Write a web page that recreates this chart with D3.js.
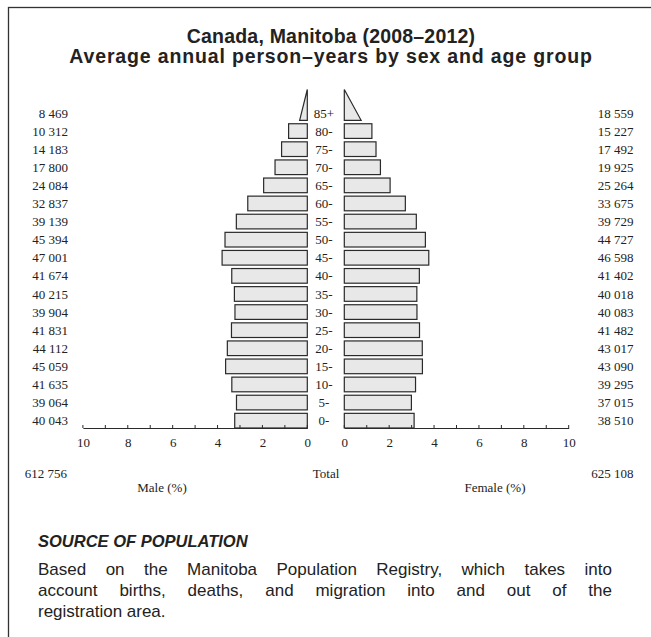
<!DOCTYPE html>
<html>
<head>
<meta charset="utf-8">
<script src="https://cdn.jsdelivr.net/npm/d3@7"></script>
<style>
  body { margin: 0; background: #fff; }
  svg { display: block; }
</style>
</head>
<body>
<div id="chart"></div>
<script>
// age groups, bottom to top
const ages = ["0-", "5-", "10-", "15-", "20-", "25-", "30-", "35-", "40-",
  "45-", "50-", "55-", "60-", "65-", "70-", "75-", "80-", "85+"];

const maleCounts = [40043, 39064, 41635, 45059, 44112, 41831, 39904, 40215, 41674,
  47001, 45394, 39139, 32837, 24084, 17800, 14183, 10312, 8469];

const femaleCounts = [38510, 37015, 39295, 43090, 43017, 41482, 40083, 40018, 41402,
  46598, 44727, 39729, 33675, 25264, 19925, 17492, 15227, 18559];

const axisTicks = [0, 2, 4, 6, 8, 10];

const titleLines = ["Canada, Manitoba (2008\u20132012)",
  "Average annual person\u2013years by sex and age group"];

const sourceHead = "SOURCE OF POPULATION";
const sourceLines = [
  "Based on the Manitoba Population Registry, which takes into",
  "account births, deaths, and migration into and out of the",
  "registration area."
];

const W = 651, H = 637;
const SERIF = "'Liberation Serif', 'DejaVu Serif', serif";
const SANS = "'Liberation Sans', Arial, sans-serif";
const INK = "#222";

const svg = d3.select("#chart").append("svg")
  .attr("width", W)
  .attr("height", H);

// frame (only top and left edges show inside the picture)
svg.append("rect")
  .attr("x", 8.5).attr("y", 7.5)
  .attr("width", W + 20).attr("height", H + 20)
  .attr("fill", "none")
  .attr("stroke", "#333")
  .attr("stroke-width", 1.3);

// title
svg.append("g").selectAll("text")
  .data(titleLines)
  .enter().append("text")
  .attr("x", 331)
  .attr("y", (d, i) => 43 + i * 19.5)
  .attr("text-anchor", "middle")
  .attr("font-family", SANS)
  .attr("font-weight", "bold")
  .attr("font-size", "19.5px")
  .attr("letter-spacing", (d, i) => i ? "0.85px" : "0.2px")
  .attr("fill", INK)
  .text(d => d);

const maleTotal = d3.sum(maleCounts);
const femaleTotal = d3.sum(femaleCounts);
const grandTotal = maleTotal + femaleTotal;
const pct = v => v / grandTotal * 100;
const fmt = v => d3.format(",")(v).replace(/,/g, " ");

const rows = ages.map((a, i) => ({ age: a, m: maleCounts[i], f: femaleCounts[i] }));

// scales
const xMale = d3.scaleLinear().domain([0, 10]).range([307.3, 82.9]);
const xFemale = d3.scaleLinear().domain([0, 10]).range([344.3, 568.7]);
const axisY = 428;
const step = 18.1;
const y = d3.scaleBand()
  .domain(ages.slice().reverse())
  .range([axisY + step * 0.095 - step * ages.length, axisY + step * 0.095])
  .paddingInner(0.19)
  .paddingOuter(0.095);

const barFill = "#e8e8e8";
const barStroke = "#2a2a2a";

const openAge = ages[ages.length - 1];
const bars = rows.filter(d => d.age !== openAge);
const openRow = rows.find(d => d.age === openAge);

// male bars
svg.append("g").selectAll("rect")
  .data(bars)
  .enter().append("rect")
  .attr("x", d => xMale(pct(d.m)))
  .attr("y", d => y(d.age))
  .attr("width", d => xMale(0) - xMale(pct(d.m)))
  .attr("height", y.bandwidth())
  .attr("fill", barFill)
  .attr("stroke", barStroke)
  .attr("stroke-width", 1.2);

// female bars
svg.append("g").selectAll("rect")
  .data(bars)
  .enter().append("rect")
  .attr("x", xFemale(0))
  .attr("y", d => y(d.age))
  .attr("width", d => xFemale(pct(d.f)) - xFemale(0))
  .attr("height", y.bandwidth())
  .attr("fill", barFill)
  .attr("stroke", barStroke)
  .attr("stroke-width", 1.2);

// open-ended age group drawn as triangles
const triBase = y(openAge) + y.bandwidth();
const triTop = triBase - 2.1 * y.bandwidth();
const triangle = (x, v) => {
  const p = d3.path();
  p.moveTo(x(0), triTop);
  p.lineTo(x(v / 2), triBase);
  p.lineTo(x(0), triBase);
  p.closePath();
  return p.toString();
};
svg.append("path")
  .attr("d", triangle(xMale, pct(openRow.m)))
  .attr("fill", barFill).attr("stroke", barStroke).attr("stroke-width", 1.2);
svg.append("path")
  .attr("d", triangle(xFemale, pct(openRow.f)))
  .attr("fill", barFill).attr("stroke", barStroke).attr("stroke-width", 1.2);

// age labels
svg.append("g").selectAll("text")
  .data(rows)
  .enter().append("text")
  .attr("x", 324)
  .attr("y", d => y(d.age) + y.bandwidth() / 2)
  .attr("dy", "0.35em")
  .attr("text-anchor", "middle")
  .attr("font-family", SERIF)
  .attr("font-size", "13px")
  .attr("fill", INK)
  .text(d => d.age);

// counts, left and right
svg.append("g").selectAll("text")
  .data(rows)
  .enter().append("text")
  .attr("x", 68)
  .attr("y", d => y(d.age) + y.bandwidth() / 2)
  .attr("dy", "0.35em")
  .attr("text-anchor", "end")
  .attr("font-family", SERIF)
  .attr("font-size", "13px")
  .attr("fill", INK)
  .text(d => fmt(d.m));

svg.append("g").selectAll("text")
  .data(rows)
  .enter().append("text")
  .attr("x", 633.5)
  .attr("y", d => y(d.age) + y.bandwidth() / 2)
  .attr("dy", "0.35em")
  .attr("text-anchor", "end")
  .attr("font-family", SERIF)
  .attr("font-size", "13px")
  .attr("fill", INK)
  .text(d => fmt(d.f));

// axes
function drawAxis(scale) {
  const g = svg.append("g").attr("transform", `translate(0,${axisY})`);
  g.call(d3.axisBottom(scale)
    .tickValues(axisTicks)
    .tickSize(0)
    .tickPadding(10)
    .tickFormat(d3.format("d")));
  g.select(".domain").attr("stroke", barStroke).attr("stroke-width", 1.2);
  g.selectAll(".tick text")
    .attr("font-family", SERIF)
    .attr("font-size", "13px")
    .attr("fill", INK);
  // small ticks every unit, pointing up
  g.selectAll(".minor")
    .data(d3.range(0, 11))
    .enter().append("line")
    .attr("class", "minor")
    .attr("x1", d => scale(d)).attr("x2", d => scale(d))
    .attr("y1", 0).attr("y2", -3)
    .attr("stroke", barStroke)
    .attr("stroke-width", 1);
}
drawAxis(xMale);
drawAxis(xFemale);

// totals and axis titles
const foot = svg.append("g")
  .attr("font-family", SERIF)
  .attr("font-size", "13px")
  .attr("fill", INK);
foot.append("text").attr("x", 67).attr("y", 478).attr("text-anchor", "end").text(fmt(maleTotal));
foot.append("text").attr("x", 326).attr("y", 478).attr("text-anchor", "middle").text("Total");
foot.append("text").attr("x", 633.5).attr("y", 478).attr("text-anchor", "end").text(fmt(femaleTotal));
foot.append("text").attr("x", 162).attr("y", 492).attr("text-anchor", "middle").text("Male (%)");
foot.append("text").attr("x", 495).attr("y", 492).attr("text-anchor", "middle").text("Female (%)");

// source note
svg.append("text")
  .attr("x", 38).attr("y", 547)
  .attr("font-family", SANS)
  .attr("font-weight", "bold")
  .attr("font-style", "italic")
  .attr("font-size", "16.5px")
  .attr("fill", INK)
  .text(sourceHead);

// justified paragraph, last line left as is
const textLeft = 38, textRight = 612;
sourceLines.forEach((line, i) => {
  const t = svg.append("text")
    .attr("y", 575 + i * 21)
    .attr("font-family", SANS)
    .attr("font-size", "17px")
    .attr("fill", INK);
  const words = line.split(" ");
  const spans = words.map(w => t.append("tspan").text(w));
  const widths = spans.map(s => s.node().getComputedTextLength());
  const justify = i < sourceLines.length - 1;
  const space = justify
    ? (textRight - textLeft - d3.sum(widths)) / (words.length - 1)
    : 4.7;
  let x = textLeft;
  spans.forEach((s, k) => {
    s.attr("x", x);
    x += widths[k] + space;
  });
});
</script>
</body>
</html>
